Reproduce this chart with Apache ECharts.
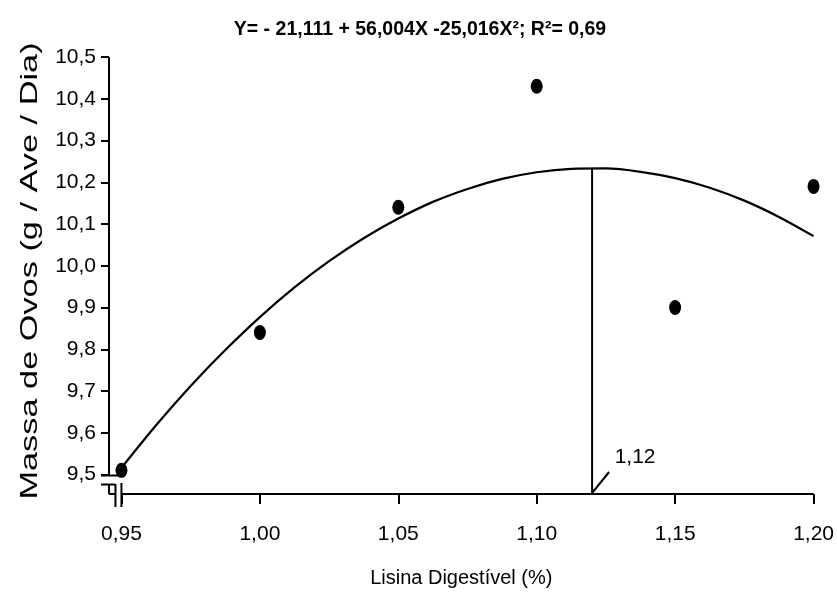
<!DOCTYPE html>
<html><head><meta charset="utf-8">
<script src="https://cdn.jsdelivr.net/npm/echarts@6/dist/echarts.min.js"></script>
<style>html,body{margin:0;padding:0;background:#fff}#c{width:837px;height:599px}</style>
</head><body><div id="c"></div>
<script>
// ---- data ----
const lysine = [0.95, 1.00, 1.05, 1.10, 1.15, 1.20];
const eggMass = [9.51, 9.84, 10.14, 10.43, 9.90, 10.19];
const curveX = [0.95, 0.9625, 0.975, 0.9875, 1.00, 1.0125, 1.025, 1.0375, 1.05, 1.0625, 1.075,
                1.0875, 1.10, 1.1125, 1.125, 1.1375, 1.15, 1.1625, 1.175, 1.1875, 1.20];
const curveY = [9.516, 9.618, 9.712, 9.798, 9.877, 9.948, 10.011, 10.066, 10.113, 10.153, 10.184,
                10.208, 10.224, 10.232, 10.233, 10.225, 10.210, 10.187, 10.156, 10.117, 10.071];
const xTicks = [0.95, 1.00, 1.05, 1.10, 1.15, 1.20];
const yTicks = [9.5, 9.6, 9.7, 9.8, 9.9, 10.0, 10.1, 10.2, 10.3, 10.4, 10.5];
const optimumX = 1.12;
const optimumY = 10.233;
const optimumLabel = '1,12';
const equation = 'Y= - 21,111 + 56,004X -25,016X²; R²= 0,69';
const xTitle = 'Lisina Digestível (%)';
const yTitle = 'Massa de Ovos (g / Ave / Dia)';

const X_MIN = 0.9455, X_MAX = 1.20, Y_MIN = 9.4533, Y_MAX = 10.5;
const FONT = '"Liberation Sans",Arial,sans-serif';

const chart = echarts.init(document.getElementById('c'), null, {renderer: 'canvas'});
const fmtX = v => v.toFixed(2).replace('.', ',');
const fmtY = v => v.toFixed(1).replace('.', ',');

chart.setOption({
  animation: false,
  backgroundColor: '#fff',
  grid: {left: 109, right: 20, top: 57, bottom: 105, containLabel: false},
  xAxis: {
    type: 'value', min: X_MIN, max: X_MAX,
    name: xTitle, nameLocation: 'middle', nameGap: 74,
    nameTextStyle: {fontFamily: FONT, fontSize: 20, color: '#000'},
    axisLine: {show: false},
    axisTick: {show: true, customValues: xTicks, length: 10, lineStyle: {color: '#000', width: 2}},
    axisLabel: {customValues: xTicks, formatter: fmtX, margin: 30, fontFamily: FONT, fontSize: 21, color: '#000'},
    splitLine: {show: false}
  },
  yAxis: {
    type: 'value', min: Y_MIN, max: Y_MAX,
    axisLine: {show: false},
    axisTick: {show: true, customValues: yTicks, length: 8, lineStyle: {color: '#000', width: 2}},
    axisLabel: {customValues: yTicks, formatter: fmtY, margin: 13, fontFamily: FONT, fontSize: 21, color: '#000'},
    splitLine: {show: false}
  },
  series: [
    {
      type: 'line', data: curveX.map((x, i) => [x, curveY[i]]), smooth: 0.3,
      showSymbol: false, lineStyle: {color: '#000', width: 2.2}, z: 2
    },
    {
      type: 'line', data: [[optimumX, Y_MIN], [optimumX, optimumY]],
      showSymbol: false, lineStyle: {color: '#000', width: 2}, z: 2
    },
    {
      type: 'scatter', data: lysine.map((x, i) => [x, eggMass[i]]),
      symbol: 'circle', symbolSize: [12, 15], itemStyle: {color: '#000', opacity: 1}, z: 3
    }
  ]
});

function drawExtras() {
  const p = (x, y) => chart.convertToPixel({gridIndex: 0}, [x, y]);
  const top = p(X_MIN, Y_MAX), b95 = p(X_MIN, 9.5), org = p(X_MIN, Y_MIN);
  const x95 = p(0.95, Y_MIN), xEnd = p(X_MAX, Y_MIN), opt = p(optimumX, Y_MIN);
  const ax = top[0], yb = org[1];
  const ls = {stroke: '#000', lineWidth: 2};
  const L = (x1, y1, x2, y2) => ({type: 'line', shape: {x1, y1, x2, y2}, style: ls, silent: true});
  const elements = [
    L(ax, top[1], ax, b95[1] + 1),
    L(ax - 8, b95[1] + 1, ax + 9, b95[1] + 1),
    L(ax - 8, b95[1] + 10, ax + 6, b95[1] + 10),
    L(ax, b95[1] + 10, ax, yb),
    L(ax, yb, x95[0] - 6, yb),
    L(x95[0] - 6, yb - 10, x95[0] - 6, yb + 13),
    L(x95[0], yb - 11, x95[0], yb + 13),
    L(x95[0], yb, xEnd[0], yb),
    L(opt[0], opt[1] - 1, opt[0] + 17, opt[1] - 22),
    {type: 'text', x: opt[0] + 43, y: opt[1] - 37, silent: true,
      style: {text: optimumLabel, font: '21px ' + FONT, fill: '#000', align: 'center', verticalAlign: 'middle'}},
    {type: 'text', x: 420, y: 30, silent: true,
      style: {text: equation, font: 'bold 19.5px ' + FONT, fill: '#000', align: 'center', verticalAlign: 'middle'}},
    {type: 'text', x: 30, y: 271, rotation: Math.PI / 2, scaleX: 1.43, silent: true,
      style: {text: yTitle, font: '24px ' + FONT, fill: '#000', align: 'center', verticalAlign: 'middle'}}
  ];
  chart.setOption({graphic: {elements: elements}});
}
drawExtras();
</script>
</body></html>
